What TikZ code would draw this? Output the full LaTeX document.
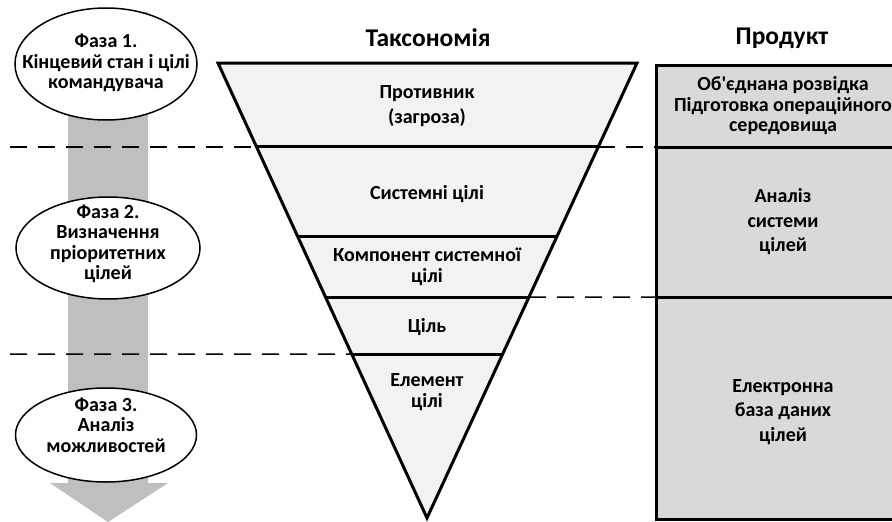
\documentclass[tikz,border=0pt]{standalone}
\usepackage{fontspec}
\setmainfont{Carlito}
\usetikzlibrary{shapes.geometric,calc}

\begin{document}
\begin{tikzpicture}[x=1pt, y=-1pt,
                    phase/.style={ellipse, draw=black, line width=1.5pt, fill=white, inner sep=0pt},
                    txt/.style={align=center, inner sep=0pt, font=\bfseries\fontsize{20}{20.5}\selectfont},
                    wide_txt/.style={txt, font=\bfseries\fontsize{20}{24.5}\selectfont},
                    head/.style={inner sep=0pt, font=\bfseries\fontsize{25.5}{26}\selectfont},
                    band/.style={line width=3pt},
                    sep/.style={line width=1.5pt, dash pattern=on 17pt off 11pt}
                ]
                    \useasboundingbox (0,0) rectangle (892,522);
                    \clip (0,0) rectangle (892,522);

                    % big grey arrow behind the phases
                    \fill[gray!50] (68,12) -- (148,12) -- (148,483) -- (168,483)
                        -- (108,522) -- (50,483) -- (68,483) -- cycle;

                    % taxonomy corners
                    \coordinate (tl) at (218,63);
                    \coordinate (tr) at (637,63);
                    \coordinate (tip) at (427,518);

                    % separators
                    \coordinate (sepA_w) at (10,147);
                    \coordinate (sepA_e) at (656,147);
                    \coordinate (sepB_w) at ($(tr)!{(297-63)/455}!(tip)$);
                    \coordinate (sepB_e) at (656,297);
                    \coordinate (sepC_w) at (10,354);
                    \coordinate (sepC_e) at ($(tl)!{(354-63)/455}!(tip)$);
                    \draw[sep] (sepA_w) -- (sepA_e);
                    \draw[sep] (sepB_w) -- (sepB_e);
                    \draw[sep] (sepC_w) -- (sepC_e);

                    % phases
                    \node[phase, minimum width=182pt, minimum height=112pt] (ph1) at (106,64) {};
                    \node[phase, minimum width=184pt, minimum height=102pt] (ph2) at (108,248) {};
                    \node[phase, minimum width=181pt, minimum height=94pt] (ph3) at (106,435) {};
                    \node[txt] (ph1_txt) at (106,63) {Фаза 1.\\Кінцевий стан і цілі\\командувача};
                    \node[txt] (ph2_txt) at (108,244) {Фаза 2.\\Визначення\\пріоритетних\\цілей};
                    \node[txt] (ph3_txt) at (106,425) {Фаза 3.\\Аналіз\\можливостей};

                    % taxonomy
                    \node[head] (tax_head) at (428,38) {Таксономія};
                    \filldraw[band, fill=black!5, line join=miter] (tl) -- (tr) -- (tip) -- cycle;
                    \foreach \y in {147, 236, 297, 354} {
                        \draw[band] ($(tl)!{(\y-63)/455}!(tip)$) -- ($(tr)!{(\y-63)/455}!(tip)$);
                    }
                    \node[wide_txt] (enemy) at (427,106) {Противник\\(загроза)};
                    \node[txt] (sys) at (427,194) {Системні цілі};
                    \node[txt] (comp) at (427,267) {Компонент системної\\цілі};
                    \node[txt] (target) at (427,327) {Ціль};
                    \node[txt] (elem) at (427,392) {Елемент\\цілі};

                    % product
                    \node[head] (prod_head) at (782,38) {Продукт};
                    \filldraw[band, fill=black!15] (656,65) rectangle (915,519.5);
                    \draw[band] (656,147) -- (915,147);
                    \draw[band] (656,297) -- (915,297);
                    \node[txt] (jipoe) at (783,106) {Об\textquotesingle єднана розвідка\\Підготовка операційного\\середовища};
                    \node[wide_txt] (tsa) at (783,222) {Аналіз\\системи\\цілей};
                    \node[wide_txt] (db) at (783,412) {Електронна\\база даних\\цілей};
                \end{tikzpicture}
\end{document}
